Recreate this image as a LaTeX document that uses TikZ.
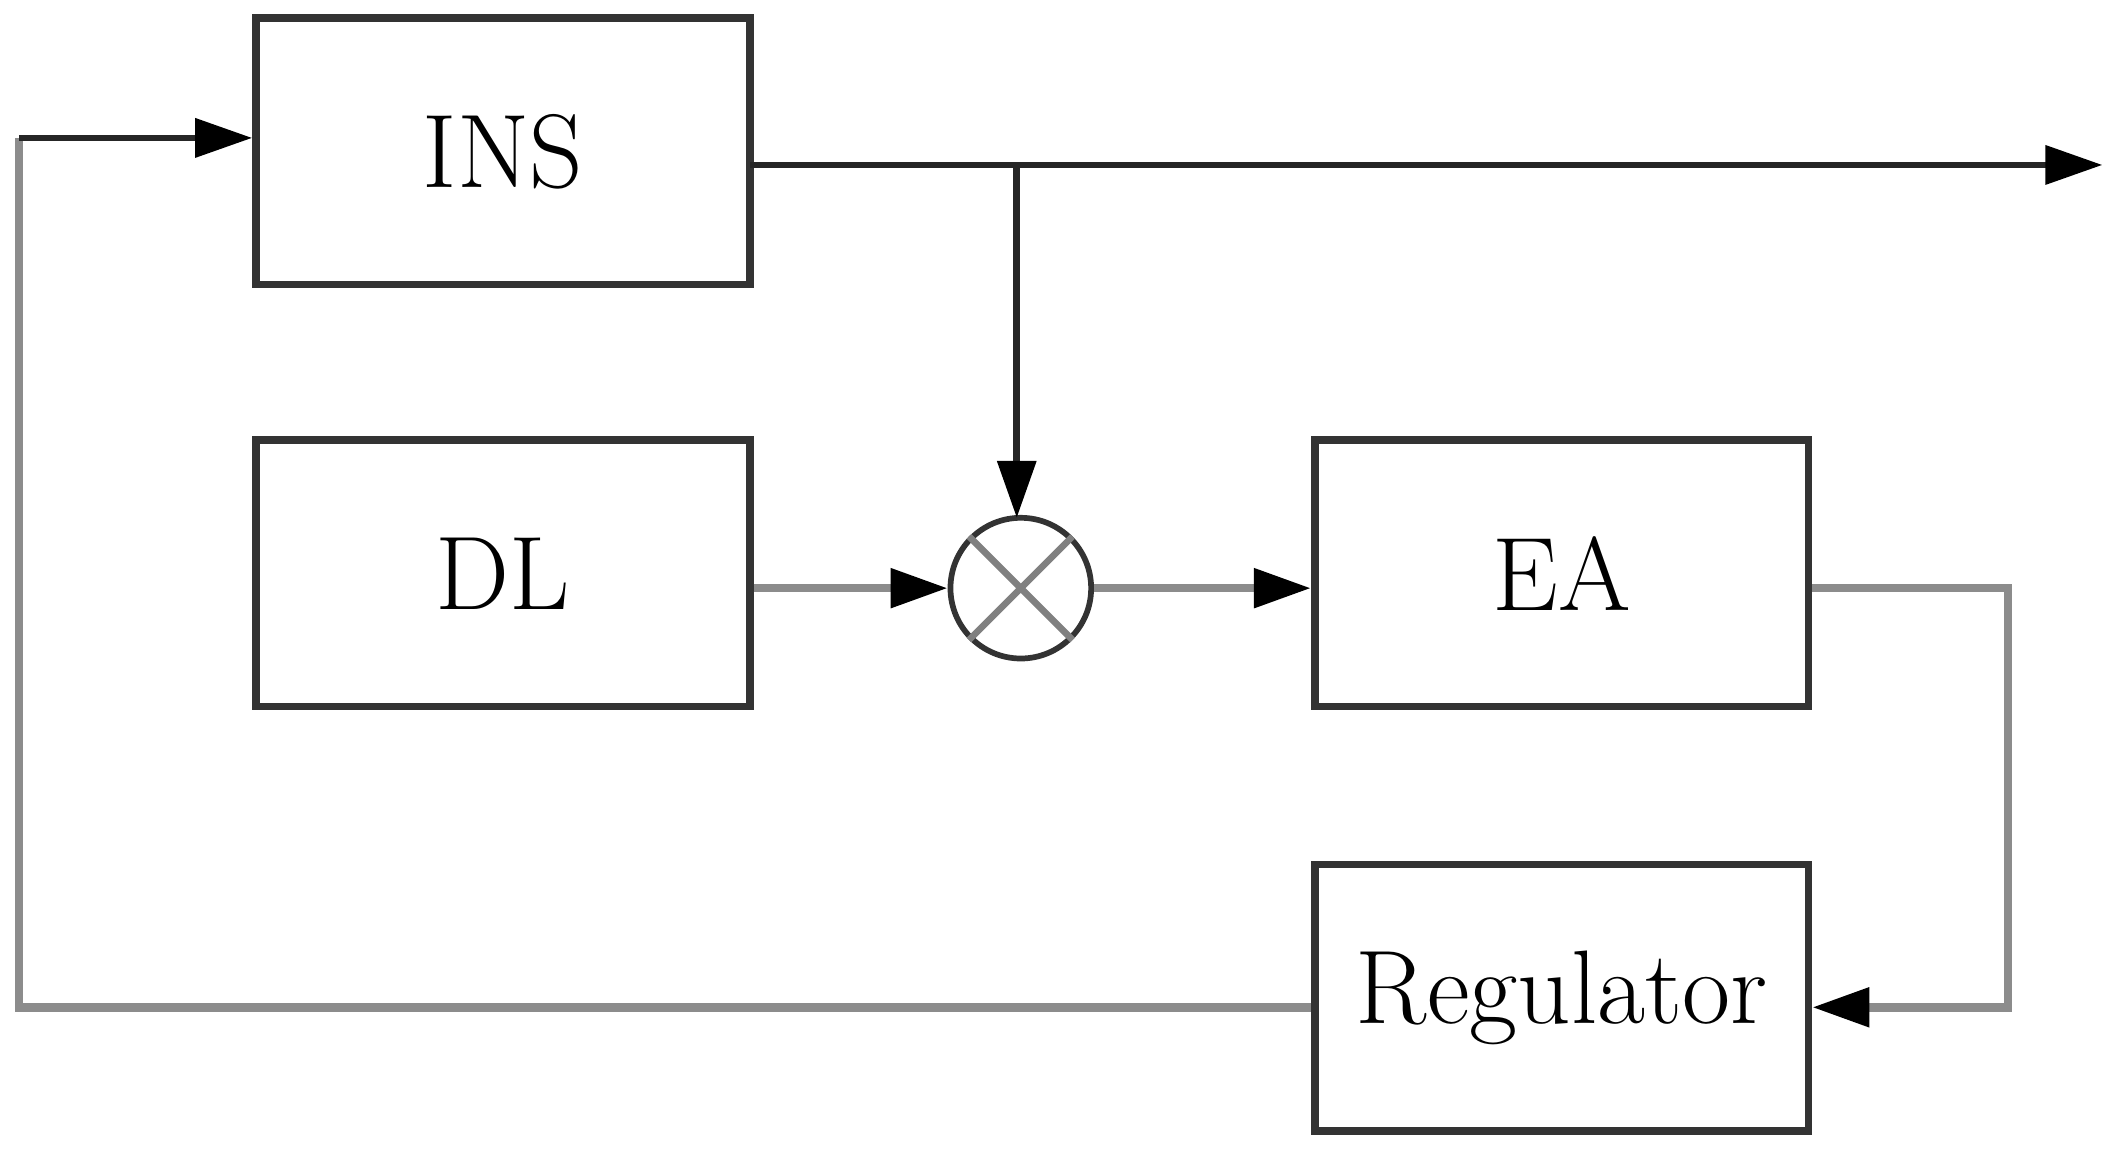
\documentclass[tikz,border=0pt]{standalone}
\usetikzlibrary{arrows.meta}
\begin{document}
\begin{tikzpicture}[x=0.01cm,y=-0.01cm,
  box/.style={draw=black!80,line width=1.6pt,minimum width=3.65cm,minimum height=1.97cm,font=\fontsize{22}{26}\selectfont},
  ln/.style={line width=1.4pt,draw=black!85},
  gl/.style={line width=1.8pt,draw=black!45},
  arr/.style={-{Triangle[length=12pt,width=8pt,fill=black,color=black]}}]
\useasboundingbox (0,0) rectangle (1565,851);
\node[box] (ins) at (372,112) {INS};
\node[box] (dl) at (372,424) {DL};
\node[box] (ea) at (1155,424) {EA};
\node[box] (reg) at (1155,738) {Regulator};
\node[draw=black!80,line width=1.2pt,circle,minimum size=1.04cm,inner sep=0pt] (m) at (755,435) {};
\draw[black!50,line width=1.4pt] (m.north west)--(m.south east) (m.north east)--(m.south west);
\coordinate (out) at (1555,122);
\coordinate (br) at (752,122);
\draw[ln,arr] (555,122) -- (out);
\draw[ln,arr] (br) -- (752,383);
\draw[gl,arr] (dl.east |- 0,435) -- (m.west);
\draw[gl,arr] (m.east) -- (ea.west |- m.east);
\coordinate (c1) at (1485,435);
\coordinate (c2) at (1485,745);
\draw[gl,arr] (ea.east |- c1) -- (c1) -- (c2) -- (reg.east |- c2);
\coordinate (c3) at (14,745);
\coordinate (c4) at (14,102);
\draw[gl] (reg.west |- c3) -- (c3) -- (c4);
\draw[ln,arr] (c4) -- (ins.west |- c4);
\end{tikzpicture}
\end{document}
